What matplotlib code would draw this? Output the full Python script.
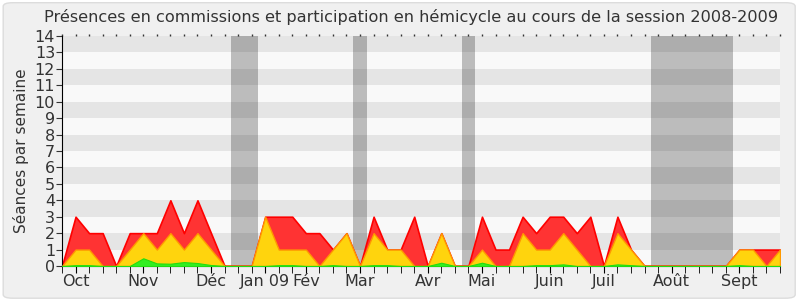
import matplotlib
matplotlib.use("Agg")
import matplotlib.pyplot as plt
from matplotlib.patches import FancyBboxPatch
import numpy as np

title = "Présences en commissions et participation en hémicycle au cours de la session 2008-2009"
ylabel = "Séances par semaine"

# weekly values, week index 0..53
total = [0, 3, 2, 2, 0, 2, 2, 2, 4, 2, 4, 2, 0, 0, 0, 3, 3, 3, 2, 2,
         1, 2, 0, 3, 1, 1, 3, 0, 2, 0, 0, 3, 1, 1, 3, 2, 3, 3, 2, 3,
         0, 3, 1, 0, 0, 0, 0, 0, 0, 0, 1, 1, 1, 1]
hemicycle = [0, 1, 1, 0, 0, 1, 2, 1, 2, 1, 2, 1, 0, 0, 0, 3, 1, 1, 1, 0,
             1, 2, 0, 2, 1, 1, 0, 0, 2, 0, 0, 1, 0, 0, 2, 1, 1, 2, 1, 0,
             0, 2, 1, 0, 0, 0, 0, 0, 0, 0, 1, 1, 0, 1]
commission = [0, 0.05, 0.05, 0, 0, 0, 0.47, 0.16, 0.14, 0.24, 0.18, 0.06, 0, 0, 0, 0, 0.05, 0.05, 0, 0,
              0.05, 0, 0, 0.05, 0.05, 0, 0, 0, 0.2, 0, 0, 0.2, 0, 0, 0, 0.05, 0.05, 0.1, 0, 0,
              0, 0.1, 0.05, 0, 0, 0, 0, 0, 0, 0, 0.05, 0, 0, 0]

# vacation periods (first week, last week)
vacations = [(13, 14), (22, 22), (30, 30), (44, 49)]

month_pos = [1, 6, 11, 15, 18, 22, 27, 31, 36, 40, 45, 50]
month_labels = ["Oct", "Nov", "Déc", "Jan 09", "Fév", "Mar", "Avr", "Mai", "Juin", "Juil", "Août", "Sept"]

ymax = 14

fig = plt.figure(figsize=(8, 3), dpi=100)
fig.patch.set_facecolor("white")
bg = FancyBboxPatch((0.004, 0.006), 0.99, 0.985, boxstyle="round,pad=0,rounding_size=0.012",
                    transform=fig.transFigure, facecolor="#f0f0f0", edgecolor="#dcdcdc",
                    linewidth=1.0, zorder=-10)
fig.patches.append(bg)

ax = fig.add_axes([0.0775, 0.1133, 0.8975, 0.7667])
ax.set_facecolor("#f9f9f9")
x = np.arange(len(total))

for k in range(ymax):
    if k % 2 == 1:
        ax.axhspan(k, k + 1, color="#e5e5e5", zorder=0, linewidth=0)
for a, b in vacations:
    ax.axvspan(a - 0.5, b + 0.5, color="black", alpha=0.245, zorder=1, linewidth=0)

ax.fill_between(x, 0, total, color="#ff3333", edgecolor="#ff0000", linewidth=1.2, zorder=2)
ax.fill_between(x, 0, hemicycle, color="#ffd40d", edgecolor="#ff9900", linewidth=1.0, zorder=3)
ax.fill_between(x, 0, commission, color="#33ee22", edgecolor="#22dd11", linewidth=0.8, zorder=4)

ax.set_xlim(0, len(total) - 1)
ax.set_ylim(0, ymax)
ax.set_yticks(range(0, ymax + 1))
ax.tick_params(axis="y", labelsize=11.5, length=4, pad=1, colors="#333333", direction="out")
ax.set_xticks(x, minor=True)
ax.set_xticks(month_pos)
ax.set_xticklabels(month_labels, fontsize=11.5, color="#333333")
ax.tick_params(axis="x", which="both", length=5, direction="out", color="black", pad=1)

for s in ["top", "right"]:
    ax.spines[s].set_visible(False)
ax.spines["left"].set_color("black")
ax.spines["bottom"].set_color("black")

# small dotted ticks along the top edge
sec = ax.secondary_xaxis("top")
sec.set_xticks(x)
sec.set_xticklabels([])
sec.tick_params(axis="x", length=1.5, width=1, color="#333333", direction="out")
sec.spines["top"].set_visible(False)

ax.set_ylabel(ylabel, fontsize=11, color="#333333", labelpad=4)
fig.text(0.514, 0.943, title, ha="center", va="center", fontsize=11.6, color="#333333")

fig.savefig("out.png", dpi=100, facecolor=fig.get_facecolor())
